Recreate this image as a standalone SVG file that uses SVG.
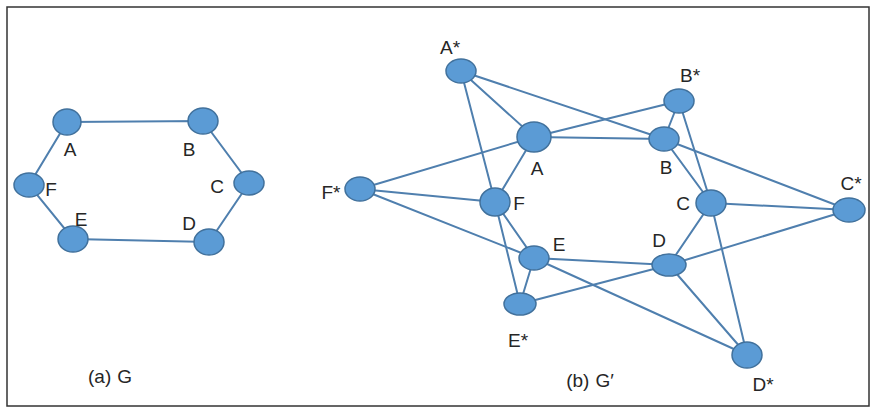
<svg xmlns="http://www.w3.org/2000/svg" width="877" height="411" viewBox="0 0 877 411">
<style>
.e{stroke:#4f7fae;stroke-width:2;fill:none}
.n{fill:#5b9bd5;stroke:#41719c;stroke-width:1.5}
.t{font-family:"Liberation Sans",Arial,sans-serif;font-size:19px;fill:#262626;text-anchor:middle}
</style>
<rect x="7" y="7" width="862" height="399" fill="#fff" stroke="#333" stroke-width="1.5"/>
<g id="connectors">
<path class="e" d="M67,122L203,121L249,183L209,242L73,239L29,185Z"/>
<path class="e" d="M534,137L664,139L711,203L669,265L534,258L495,202Z"/>
<path class="e" d="M461,71L534,137M461,71L495,202M461,71L664,139"/>
<path class="e" d="M679,101L664,139M679,101L534,137M679,101L711,203"/>
<path class="e" d="M849,210L711,203M849,210L664,139M849,210L669,265"/>
<path class="e" d="M747,355L669,265M747,355L711,203M747,355L534,258"/>
<path class="e" d="M520,304L534,258M520,304L495,202M520,304L669,265"/>
<path class="e" d="M360,189L495,202M360,189L534,137M360,189L534,258"/>
</g>
<g id="gA"><ellipse class="n" cx="67" cy="122" rx="14" ry="13"/><text class="t" x="70" y="156">A</text></g>
<g id="gB"><ellipse class="n" cx="203" cy="121" rx="15" ry="13"/><text class="t" x="189" y="156">B</text></g>
<g id="gC"><ellipse class="n" cx="249" cy="183" rx="15" ry="12"/><text class="t" x="217" y="193">C</text></g>
<g id="gD"><ellipse class="n" cx="209" cy="242" rx="15" ry="13"/><text class="t" x="189" y="230">D</text></g>
<g id="gE"><ellipse class="n" cx="73" cy="239" rx="15" ry="13"/><text class="t" x="81" y="226">E</text></g>
<g id="gF"><ellipse class="n" cx="29" cy="185" rx="15" ry="12"/><text class="t" x="51" y="196">F</text></g>
<text class="t" x="110" y="383">(a)<tspan dx="6">G</tspan></text>

<g id="A2"><ellipse class="n" cx="534" cy="137" rx="17" ry="15"/><text class="t" x="537" y="175">A</text></g>
<g id="B2"><ellipse class="n" cx="664" cy="139" rx="15" ry="12"/><text class="t" x="666" y="174">B</text></g>
<g id="C2"><ellipse class="n" cx="711" cy="203" rx="15" ry="13"/><text class="t" x="683" y="210">C</text></g>
<g id="D2"><ellipse class="n" cx="669" cy="265" rx="17" ry="11"/><text class="t" x="659" y="247">D</text></g>
<g id="E2"><ellipse class="n" cx="534" cy="258" rx="15" ry="12"/><text class="t" x="559" y="251">E</text></g>
<g id="F2"><ellipse class="n" cx="495" cy="202" rx="15" ry="14"/><text class="t" x="519" y="210">F</text></g>
<g id="As"><ellipse class="n" cx="461" cy="71" rx="15" ry="12"/><text class="t" x="450" y="54">A*</text></g>
<g id="Bs"><ellipse class="n" cx="679" cy="101" rx="15" ry="12"/><text class="t" x="690" y="82">B*</text></g>
<g id="Cs"><ellipse class="n" cx="849" cy="210" rx="16" ry="12"/><text class="t" x="851" y="190">C*</text></g>
<g id="Ds"><ellipse class="n" cx="747" cy="355" rx="15" ry="13"/><text class="t" x="763" y="391">D*</text></g>
<g id="Es"><ellipse class="n" cx="520" cy="304" rx="16" ry="11"/><text class="t" x="518" y="347">E*</text></g>
<g id="Fs"><ellipse class="n" cx="360" cy="189" rx="15" ry="12"/><text class="t" x="331" y="199">F*</text></g>
<text class="t" x="590" y="387">(b)<tspan dx="6">G′</tspan></text>
</svg>
